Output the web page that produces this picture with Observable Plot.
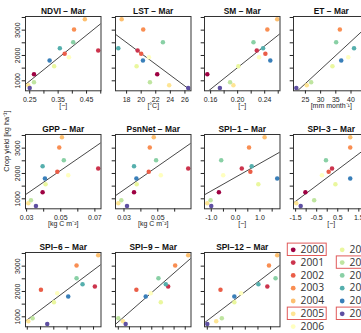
<!DOCTYPE html>
<html>
<head>
<meta charset="utf-8">
<script src="https://cdn.jsdelivr.net/npm/d3@7"></script>
<script src="https://cdn.jsdelivr.net/npm/@observablehq/plot@0.6"></script>
<style>
  html, body { margin: 0; padding: 0; background: #fff; }
  #fig { position: relative; width: 361px; height: 333px; overflow: hidden; background: #fff; }
  #fig svg { position: absolute; overflow: visible; }
</style>
</head>
<body>
<div id="fig"></div>
<script>
// Crop yield in March vs. remote-sensing / drought predictors, one point per year
const years = [2000, 2001, 2002, 2003, 2004, 2005, 2006, 2007, 2008, 2009, 2010, 2011, 2012];
const yieldKgHa = [1263, 2197, 2066, 3026, 3430, 829, 1934, 1579, 947, 2526, 2290, 1803, 714];

// predictor values in year order (null = not available)
const ndvi   = [0.265, 0.491, 0.373, 0.406, 0.444, 0.245, 0.388, 0.336, 0.265, 0.403, 0.356, 0.320, 0.250];
const lst    = [22.2, 19.51, 20.0, 20.28, 17.32, 23.84, 21.06, 19.37, 21.2, 22.98, 16.86, 20.24, 26.45];
const sm     = [0.1551, 0.2283, 0.2410, 0.2439, 0.2585, 0.1937, 0.2317, 0.2010, 0.1888, 0.2234, 0.2376, 0.2483, 0.1737];
const et     = [null, null, null, 36.33, 45.0, 25.44, 39.1, 33.89, 26.89, 35.11, 41.0, 36.78, 22.0];
const gpp    = [0.03937, 0.07195, 0.0480, 0.04912, 0.05068, 0.03098, 0.0544, 0.0411, 0.03254, 0.0518, 0.03937, 0.04073, 0.03546];
const psnNet = [0.03594, 0.0680, 0.04465, 0.04525, 0.04762, 0.02663, 0.05178, 0.03752, 0.02842, 0.0490, 0.03594, 0.03733, 0.03178];
const spi1   = [-0.687, 0.252, 0.605, 0.551, 1.19, -1.163, -0.51, 0.932, -1.027, -0.592, 0.66, 1.707, -1.0];
const spi3   = [-1.036, 0.228, 0.068, 1.092, 1.092, -1.468, -0.252, 0.388, -0.62, -0.06, 1.85, 1.092, -1.26];
const spi6   = [null, 1.05, -0.985, 0.359, 1.176, -1.462, -0.369, -0.495, -1.30, 0.359, 0.585, 0.045, -0.746];
const spi9   = [null, 0.734, -0.69, 1.049, 1.633, -1.29, -0.046, 0.404, -1.5, 0.299, 0.629, -0.271, -1.17];
const spi12  = [null, 0.87, -0.979, 0.935, 1.26, -1.148, -0.172, -0.432, -0.927, 1.195, 0.518, -0.432, -1.5];

// axis ticks and their printed labels ("" = tick without label)
const yTicks = [1000, 1500, 2000, 2500, 3000, 3500];
const yTickLabels = ["1000", "", "2000", "", "3000", ""];
const ndviTicks = [0.25, 0.30, 0.35, 0.40, 0.45, 0.50];
const ndviTickLabels = ["0.25", "", "0.35", "", "0.45", ""];
const lstTicks = [18, 20, 22, 24, 26];
const lstTickLabels = ["18", "20", "22", "24", "26"];
const smTicks = [0.16, 0.18, 0.20, 0.22, 0.24, 0.26];
const smTickLabels = ["0.16", "", "0.20", "", "0.24", ""];
const etTicks = [25, 30, 35, 40, 45];
const etTickLabels = ["25", "30", "35", "40", "45"];
const gppTicks = [0.03, 0.04, 0.05, 0.06, 0.07];
const gppTickLabels = ["0.03", "", "0.05", "", "0.07"];
const psnTicks = [0.03, 0.04, 0.05, 0.06];
const psnTickLabels = ["0.03", "", "0.05", ""];
const spiTicks = [-1.5, -1.0, -0.5, 0, 0.5, 1.0, 1.5];
const spi1TickLabels = ["", "-1.0", "", "0.0", "", "1.0", ""];
const spi3TickLabels = ["-1.5", "", "-0.5", "", "0.5", "", "1.5"];

const titles = ["NDVI − Mar", "LST − Mar", "SM − Mar", "ET − Mar",
                "GPP − Mar", "PsnNet − Mar", "SPI−1 − Mar", "SPI−3 − Mar",
                "SPI−6 − Mar", "SPI−9 − Mar", "SPI−12 − Mar"];
const units = ["[−]", "[°C]", "[−]", "[mm month⁻¹]", "[kg C m⁻²]", "[kg C m⁻²]", "[−]", "[−]", "[−]", "[−]", "[−]"];
const yTitle = "Crop yield [kg ha⁻¹]";
const boxedYears = [2000, 2005, 2008, 2012];

const panels = [
  {values: ndvi, ticks: ndviTicks, labels: ndviTickLabels},
  {values: lst, ticks: lstTicks, labels: lstTickLabels},
  {values: sm, ticks: smTicks, labels: smTickLabels},
  {values: et, ticks: etTicks, labels: etTickLabels},
  {values: gpp, ticks: gppTicks, labels: gppTickLabels},
  {values: psnNet, ticks: psnTicks, labels: psnTickLabels},
  {values: spi1, ticks: spiTicks, labels: spi1TickLabels},
  {values: spi3, ticks: spiTicks, labels: spi3TickLabels},
  {values: spi6, ticks: spiTicks, labels: spi3TickLabels},
  {values: spi9, ticks: spiTicks, labels: spi3TickLabels},
  {values: spi12, ticks: spiTicks, labels: spi3TickLabels}
];

// Spectral ramp, linear between the 11 ColorBrewer stops
const palette = d3.quantize(d3.piecewise(d3.interpolateRgb, d3.schemeSpectral[11]), years.length);
const colorScale = {type: "ordinal", domain: years, range: palette};

const fig = document.getElementById("fig");
const FONT = "'Liberation Sans', Arial, Helvetica, sans-serif";
const BOX_W = 75.5, BOX_H = 74.3;
const colLeft = [25, 114.5, 203.5, 292.5];
const rowTop = [15.7, 134, 252.3];
const M = {top: 18, right: 6, bottom: 26, left: 24};

// R-style range: data extent widened by 4% on each side
function padded(v) {
  const [a, b] = d3.extent(v);
  const p = (b - a) * 0.04;
  return [a - p, b + p];
}

function place(svg, left, top) {
  svg.style.left = left + "px";
  svg.style.top = top + "px";
  fig.appendChild(svg);
}

panels.forEach((p, k) => {
  const col = k % 4, row = Math.floor(k / 4);
  const pts = years.map((year, i) => ({year, x: p.values[i], y: yieldKgHa[i]})).filter(d => d.x != null);
  const xd = padded(pts.map(d => d.x));
  const yd = padded(pts.map(d => d.y));
  // ordinary least squares line, drawn across the whole panel
  const mx = d3.mean(pts, d => d.x), my = d3.mean(pts, d => d.y);
  const slope = d3.sum(pts, d => (d.x - mx) * (d.y - my)) / d3.sum(pts, d => (d.x - mx) ** 2);
  const fit = xd.map(x => ({x, y: my + slope * (x - mx)}));
  const xLabel = new Map(p.ticks.map((t, i) => [t, p.labels[i]]));
  const yLabel = new Map(yTicks.map((t, i) => [t, yTickLabels[i]]));
  const xt = p.ticks.filter(t => t >= xd[0] && t <= xd[1]);
  const yt = yTicks.filter(t => t >= yd[0] && t <= yd[1]);
  const marks = [
    Plot.axisX({ticks: xt, tickSize: 3.3, tickPadding: 3.4, tickFormat: t => xLabel.get(t), label: null, fontSize: 7}),
    Plot.axisY({ticks: yt, tickSize: 3.3, tickPadding: 2.2, tickRotate: -90,
                tickFormat: t => col === 0 ? yLabel.get(t) : "", label: null, fontSize: 7}),
    Plot.line(fit, {x: "x", y: "y", stroke: "#333", strokeWidth: 0.9, clip: true}),
    Plot.dot(pts, {x: "x", y: "y", r: 2.25, fill: "year", stroke: null}),
    Plot.frame({stroke: "#333", strokeWidth: 1}),
    Plot.text([titles[k]], {text: d => d, frameAnchor: "top", dy: -8, fontWeight: "bold", fontSize: 8.4, fill: "#111"}),
    Plot.text([units[k]], {text: d => d, frameAnchor: "bottom", dy: 17.5, fontSize: 7, fill: "#222"})
  ];
  if (col === 0 && row === 1) {
    marks.push(Plot.text([yTitle], {text: d => d, frameAnchor: "left", dx: -19, rotate: -90, fontSize: 7.3, fill: "#222"}));
  }
  const svg = Plot.plot({
    width: M.left + BOX_W + M.right,
    height: M.top + BOX_H + M.bottom,
    marginTop: M.top, marginRight: M.right, marginBottom: M.bottom, marginLeft: M.left,
    x: {domain: xd},
    y: {domain: yd},
    color: colorScale,
    style: {background: "transparent", overflow: "visible", fontFamily: FONT, color: "#222"},
    marks
  });
  place(svg, colLeft[col] - M.left, rowTop[row] - M.top);
});

// legend: two columns of years, some of them outlined
const perCol = 7;
const legendRows = years.map((year, i) => ({year, col: Math.floor(i / perCol), row: i % perCol}));
const legend = Plot.plot({
  width: 130, height: 100,
  margin: 0,
  x: {domain: [0, 1], range: [12.7, 61.7], axis: null},
  y: {domain: [0, 6], range: [9.3, 86.1], axis: null},
  color: colorScale,
  style: {background: "transparent", overflow: "visible", fontFamily: "'Open Sans', 'Liberation Sans', Arial, sans-serif"},
  marks: [
    Plot.rect(legendRows.filter(d => boxedYears.includes(d.year)), {
      x1: "col", x2: "col", y1: "row", y2: "row",
      insetLeft: -5.4, insetRight: -33.5, insetTop: -6.2, insetBottom: -6.2,
      fill: "none", stroke: "#e05a5a", strokeWidth: 1
    }),
    Plot.dot(legendRows, {x: "col", y: "row", r: 2.4, fill: "year", stroke: null}),
    Plot.text(legendRows, {x: "col", y: "row", text: d => String(d.year), dx: 7.3, textAnchor: "start", fontSize: 10.3, fill: "#333"})
  ]
});
place(legend, 280, 240);
</script>
</body>
</html>
